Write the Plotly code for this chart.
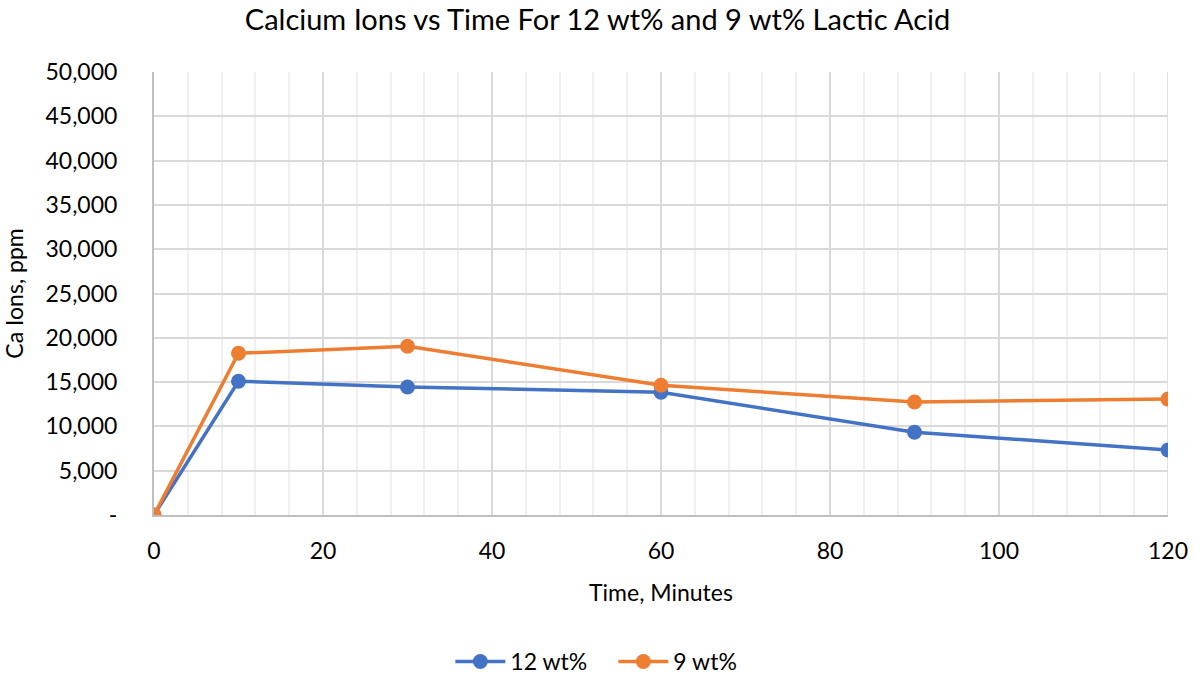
import plotly.graph_objects as go

time_min = [0, 10, 30, 60, 90, 120]
ca_12wt = [0, 15100, 14450, 13850, 9350, 7330]
ca_9wt = [0, 18250, 19050, 14650, 12750, 13080]
y_ticks = [0, 5000, 10000, 15000, 20000, 25000, 30000, 35000, 40000, 45000, 50000]
y_labels = ["-", "5,000", "10,000", "15,000", "20,000", "25,000", "30,000", "35,000", "40,000", "45,000", "50,000"]

font = "Lato, 'Open Sans', sans-serif"
fig = go.Figure()
fig.add_trace(go.Scatter(x=time_min, y=ca_12wt, name="12 wt%", mode="lines+markers",
                         line=dict(color="#4472C4", width=3.5),
                         marker=dict(size=15, color="#4472C4")))
fig.add_trace(go.Scatter(x=time_min, y=ca_9wt, name="9 wt%", mode="lines+markers",
                         line=dict(color="#ED7D31", width=3.5),
                         marker=dict(size=15, color="#ED7D31")))

fig.update_layout(
    width=1195, height=675,
    margin=dict(l=154, r=27, t=72, b=160, autoexpand=False),
    paper_bgcolor="white", plot_bgcolor="white",
    font=dict(family=font, size=23, color="#000000"),
    title=dict(text="Calcium Ions vs Time For 12 wt% and 9 wt% Lactic Acid",
               x=0.5, xanchor="center", y=0.97, yanchor="middle",
               font=dict(size=29, color="#000000")),
    xaxis=dict(range=[0, 120], tickvals=[0, 20, 40, 60, 80, 100, 120],
               showgrid=True, gridcolor="#D9D9D9", gridwidth=1.5,
               minor=dict(dtick=4, showgrid=True, gridcolor="#F0F0F0", gridwidth=1.5),
               showline=True, linecolor="#BFBFBF", linewidth=2, mirror=False,
               zeroline=False, ticks="", ticklabelstandoff=14, automargin=False,
               title=dict(text="Time, Minutes", font=dict(size=23), standoff=22)),
    yaxis=dict(range=[0, 50000], tickvals=y_ticks, ticktext=y_labels,
               showgrid=True, gridcolor="#D9D9D9", gridwidth=1.5,
               showline=True, linecolor="#BFBFBF", linewidth=2,
               zeroline=False, ticks="", ticklabelstandoff=30, automargin=False,
               title=dict(text="Ca Ions, ppm", font=dict(size=23), standoff=20)),
    legend=dict(orientation="h", x=0.453, xanchor="center", yref="container",
                y=0.02, yanchor="middle", font=dict(size=23),
                entrywidth=98, entrywidthmode="pixels", itemwidth=50),
    showlegend=True,
)
fig.add_shape(type="line", xref="x", yref="y", x0=120, x1=120, y0=0, y1=50000,
              line=dict(color="#D9D9D9", width=1.5), layer="below")
fig.write_html("out.html")
